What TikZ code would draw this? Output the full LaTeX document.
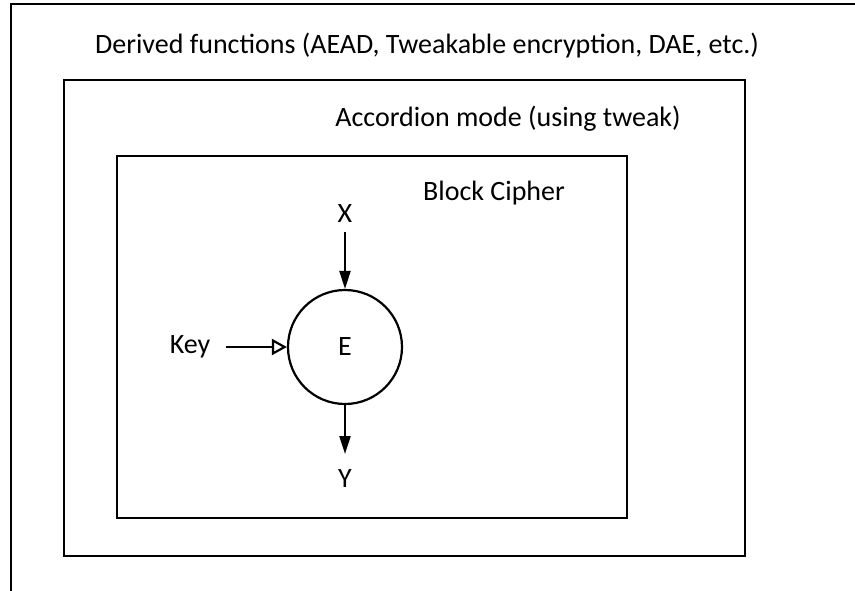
\documentclass[tikz,border=0pt]{standalone}
\usepackage{fontspec}
\setmainfont{Carlito}
\usetikzlibrary{arrows.meta}
\begin{document}
\begin{tikzpicture}[x=1pt,y=-1pt,
  box/.style={draw,line width=2.2pt},
  lbl/.style={font=\fontsize{28}{32}\selectfont,inner sep=0pt},
  arr/.style={line width=2.2pt,-{Triangle[length=18pt,width=11pt]}},
  oarr/.style={line width=2.2pt,-{Triangle[open,length=15pt,width=16pt]}}]
\useasboundingbox (0,0) rectangle (855,590);
\clip (0,0) rectangle (855,590);
\draw[box] (11,4) rectangle (900,700);
\draw[box] (64,80) rectangle (745,556);
\draw[box] (117,156) rectangle (627,518);
\node[lbl] (t1) at (427,46) {Derived functions (AEAD, Tweakable encryption, DAE, etc.)};
\node[lbl] (t2) at (508,119) {Accordion mode (using tweak)};
\node[lbl] (t3) at (494,193) {Block Cipher};
\node[draw,circle,line width=2.2pt,minimum size=114pt,inner sep=0pt,font=\fontsize{28}{32}\selectfont] (E) at (345,347) {E};
\node[lbl] (X) at (345,214) {X};
\node[lbl] (Y) at (345,479) {Y};
\node[lbl] (K) at (190,347) {Key};
\draw[arr] (345,232) -- (E.north);
\draw[arr] (E.south) -- (345,454);
\draw[oarr] (226,347) -- (E.west);
\end{tikzpicture}
\end{document}
